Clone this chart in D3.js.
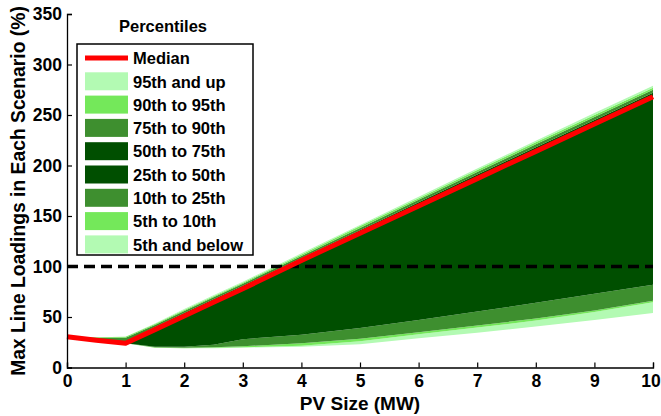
<!DOCTYPE html>
<html>
<head>
<meta charset="utf-8">
<script src="https://cdn.jsdelivr.net/npm/d3@7"></script>
<style>
  body { margin: 0; background: #fff; }
  text { font-family: Arial, "Liberation Sans", sans-serif; font-weight: bold; fill: #000; }
</style>
</head>
<body>
<div id="chart"></div>
<script>
// PV size (MW) sample points
const pvSize = [0, 0.5, 1, 1.5, 2, 2.5, 3, 4, 5, 6, 7, 8, 9, 10];

// percentiles of max line loading (%)
const p0 = [30.5, 27, 24, 19.5, 19, 19, 19.5, 20.5, 23, 29, 34.5, 40.5, 47, 54];
const p5 = [30.5, 27, 24, 19.5, 19, 19.5, 20, 21.5, 26, 33, 39.5, 46.5, 55, 64.5];
const p10 = [30.5, 27, 24, 20, 19.5, 20, 21, 24, 28.5, 35, 41.5, 48.5, 56.5, 66];
const p25 = [30.5, 27, 24, 20.5, 20.5, 22.5, 28, 32.5, 39, 47, 55.5, 64, 73, 82];
const p50 = [30.5, 27, 24, 37.5, 51, 64.5, 78, 106, 133, 160, 187, 214, 241, 268];
const p75 = [30.5, 27, 24.5, 40, 54, 67.5, 81, 108.5, 136, 163.5, 191, 218, 245, 272];
const p90 = [30.5, 29.5, 29.5, 42, 56, 69.5, 83, 110.5, 138, 166, 193.5, 221, 248, 275];
const p95 = [30.5, 30, 30.5, 43, 57, 70.5, 84, 112, 140, 167.5, 195.5, 223, 250, 277];
const p100 = [30.5, 30, 30.5, 43.5, 58, 71.5, 85, 113, 141, 169, 197, 224.5, 252, 279];

const limit = 100;
const xTicks = [0, 1, 2, 3, 4, 5, 6, 7, 8, 9, 10];
const yTicks = [0, 50, 100, 150, 200, 250, 300, 350];

const pale = "#b3fab3", bright = "#74e85a", mid = "#3e8f2f", dark = "#004f00";

// bands, bottom to top
const bands = [
  { label: "5th and below", lo: p0, hi: p5, color: pale },
  { label: "5th to 10th", lo: p5, hi: p10, color: bright },
  { label: "10th to 25th", lo: p10, hi: p25, color: mid },
  { label: "25th to 50th", lo: p25, hi: p50, color: dark },
  { label: "50th to 75th", lo: p50, hi: p75, color: dark },
  { label: "75th to 90th", lo: p75, hi: p90, color: mid },
  { label: "90th to 95th", lo: p90, hi: p95, color: bright },
  { label: "95th and up", lo: p95, hi: p100, color: pale },
];

const svgWidth = 661, svgHeight = 416;
const margin = { top: 14, right: 8, bottom: 48.5, left: 67 };
const width = svgWidth - margin.left - margin.right,
  height = svgHeight - margin.top - margin.bottom;

const svg = d3.select("#chart").append("svg")
  .attr("width", svgWidth)
  .attr("height", svgHeight);

const g = svg.append("g")
  .attr("transform", "translate(" + margin.left + "," + margin.top + ")");

const x = d3.scaleLinear().domain([0, 10]).range([0, width]);
const y = d3.scaleLinear().domain([0, 350]).range([height, 0]);

// percentile areas
g.selectAll(".band")
  .data(bands)
  .enter()
  .append("path")
  .attr("class", "band")
  .attr("fill", d => d.color)
  .attr("d", d => d3.area()
    .x((v, i) => x(pvSize[i]))
    .y0((v, i) => y(d.lo[i]))
    .y1((v, i) => y(d.hi[i]))(pvSize));

// 100% line
g.append("line")
  .attr("x1", x(0)).attr("x2", x(10))
  .attr("y1", y(limit)).attr("y2", y(limit))
  .attr("stroke", "#000")
  .attr("stroke-width", 3.5)
  .attr("stroke-dasharray", "11,6");

// median
g.append("path")
  .datum(pvSize)
  .attr("fill", "none")
  .attr("stroke", "#ff0000")
  .attr("stroke-width", 5)
  .attr("stroke-linejoin", "round")
  .attr("d", d3.line().x((v, i) => x(pvSize[i])).y((v, i) => y(p50[i])));

// axes (ticks pointing inward)
const xAxis = g.append("g")
  .attr("transform", "translate(0," + height + ")")
  .call(d3.axisBottom(x).tickValues(xTicks).tickSize(-5).tickPadding(7).tickFormat(d3.format("d")));
const yAxis = g.append("g")
  .call(d3.axisLeft(y).tickValues(yTicks).tickSize(-5).tickPadding(8).tickFormat(d3.format("d")));

[xAxis, yAxis].forEach(ax => {
  ax.select(".domain").attr("stroke", "#000").attr("stroke-width", 1.3);
  ax.selectAll(".tick line").attr("stroke", "#000").attr("stroke-width", 1.2);
  ax.selectAll(".tick text").style("font-size", "17.5px").style("font-family", "Arial, 'Liberation Sans', sans-serif").style("font-weight", "bold");
});
yAxis.selectAll(".tick text").attr("x", -5);
// keep the last label inside the page
xAxis.selectAll(".tick text").filter(d => d === 10).attr("dx", -2.5);

// axis titles
svg.append("text")
  .attr("x", margin.left + width / 2)
  .attr("y", 410)
  .attr("text-anchor", "middle")
  .style("font-size", "19px")
  .text("PV Size (MW)");

svg.append("text")
  .attr("transform", "translate(25,191) rotate(-90)")
  .attr("text-anchor", "middle")
  .style("font-size", "19.3px")
  .text("Max Line Loadings in Each Scenario (%)");

// legend
const legend = svg.append("g").attr("transform", "translate(77,44)");
svg.append("text")
  .attr("x", 163)
  .attr("y", 32)
  .attr("text-anchor", "middle")
  .style("font-size", "16.5px")
  .text("Percentiles");

legend.append("rect")
  .attr("width", 176)
  .attr("height", 211)
  .attr("fill", "#fff")
  .attr("stroke", "#000")
  .attr("stroke-width", 1.5);

const legendItems = [{ label: "Median", color: "#ff0000", line: true }]
  .concat(bands.slice().reverse().map(b => ({ label: b.label, color: b.color, line: false })));

const rowStep = 23.3;
const items = legend.selectAll(".item")
  .data(legendItems)
  .enter()
  .append("g")
  .attr("class", "item")
  .attr("transform", (d, i) => "translate(0," + (14 + i * rowStep) + ")");

items.filter(d => d.line).append("line")
  .attr("x1", 8).attr("x2", 51)
  .attr("stroke", d => d.color)
  .attr("stroke-width", 5);

items.filter(d => !d.line).append("rect")
  .attr("x", 8).attr("y", -9)
  .attr("width", 43).attr("height", 18)
  .attr("fill", d => d.color);

items.append("text")
  .attr("x", 56)
  .attr("dy", "0.38em")
  .style("font-size", "16.5px")
  .text(d => d.label);
</script>
</body>
</html>
